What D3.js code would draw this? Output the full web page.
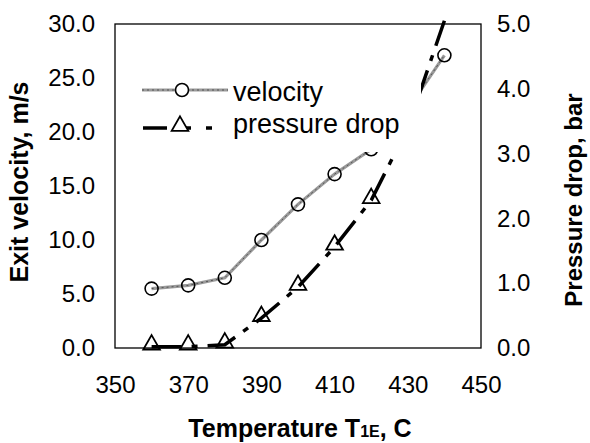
<!DOCTYPE html>
<html><head><meta charset="utf-8">
<script src="https://cdn.jsdelivr.net/npm/d3@7"></script>
<style>body{margin:0;background:#fff}svg{display:block}text{font-family:"Liberation Sans",Arial,sans-serif}</style>
</head><body>
<svg id="c" width="590" height="443"></svg>
<script>
const temps = [360, 370, 380, 390, 400, 410, 420, 430, 440];
const velocity = [5.5, 5.8, 6.5, 10.0, 13.3, 16.1, 18.4, 22.1, 27.1];
const pressure = [0.02, 0.02, 0.05, 0.46, 0.94, 1.56, 2.28, 3.4, 5.05];
const xTicks = [350, 370, 390, 410, 430, 450];
const yLeftTicks = [0, 5, 10, 15, 20, 25, 30];
const yRightTicks = [0, 1, 2, 3, 4, 5];
const legendLabels = ["velocity", "pressure drop"];

const L = 115, R = 481, T = 24, B = 348;
const svg = d3.select("#c");
const x = d3.scaleLinear().domain([350, 450]).range([L, R]);
const yL = d3.scaleLinear().domain([0, 30]).range([B, T]);
const yR = d3.scaleLinear().domain([0, 5]).range([B, T]);

const fmt = d3.format(".1f");
const gL = svg.append("g").attr("transform", `translate(${L},0)`)
  .call(d3.axisLeft(yL).tickValues(yLeftTicks).tickFormat(fmt).tickSize(0).tickPadding(20));
const gR = svg.append("g").attr("transform", `translate(${R},0)`)
  .call(d3.axisRight(yR).tickValues(yRightTicks).tickFormat(fmt).tickSize(0).tickPadding(16));
const gX = svg.append("g").attr("transform", `translate(0,${B})`)
  .call(d3.axisBottom(x).tickValues(xTicks).tickFormat(d3.format("d")).tickSize(0).tickPadding(28));
[gL, gR, gX].forEach(g => {
  g.select(".domain").remove();
  g.selectAll("text").attr("font-size", 24).attr("fill", "#000")
    .style("font-family", '"Liberation Sans",Arial,sans-serif');
});

svg.append("rect").attr("x", L).attr("y", T).attr("width", R - L).attr("height", B - T)
  .attr("fill", "none").attr("stroke", "#000").attr("stroke-width", 1.3);

const vData = temps.map((t, i) => [t, velocity[i]]);
const vLine = d3.line().x(d => x(d[0])).y(d => yL(d[1]));
svg.append("path").attr("d", vLine(vData)).attr("fill", "none").attr("stroke", "#9a9a9a").attr("stroke-width", 3.2);
svg.append("path").attr("d", vLine(vData)).attr("fill", "none").attr("stroke", "#555").attr("stroke-width", 1).attr("stroke-dasharray", "2,3");
svg.selectAll(".vm").data(vData).enter().append("circle")
  .attr("cx", d => x(d[0])).attr("cy", d => yL(d[1])).attr("r", 6.5)
  .attr("fill", "none").attr("stroke", "#000").attr("stroke-width", 1.6);

const pData = temps.map((t, i) => [t, pressure[i]]);
const pLine = d3.line().x(d => x(d[0])).y(d => yR(d[1]));
svg.append("path").attr("d", pLine(pData)).attr("fill", "none").attr("stroke", "#000")
  .attr("stroke-width", 3.5).attr("stroke-dasharray", "30,10,6,10");
const tri = d3.symbol().type(d3.symbolTriangle).size(120);
svg.selectAll(".pm").data(pData.filter(d => d[1] <= 5)).enter().append("path")
  .attr("d", tri).attr("transform", d => `translate(${x(d[0])},${yR(d[1]) - 2})`)
  .attr("fill", "none").attr("stroke", "#000").attr("stroke-width", 1.8);

svg.append("rect").attr("x", 136).attr("y", 70).attr("width", 285).attr("height", 82).attr("fill", "#fff");
const lg = svg.append("g");
lg.append("line").attr("x1", 142).attr("x2", 228).attr("y1", 90).attr("y2", 90).attr("stroke", "#9a9a9a").attr("stroke-width", 3.2);
lg.append("line").attr("x1", 142).attr("x2", 228).attr("y1", 90).attr("y2", 90).attr("stroke", "#555").attr("stroke-width", 1).attr("stroke-dasharray", "2,3");
lg.append("circle").attr("cx", 182).attr("cy", 90).attr("r", 6.5).attr("fill", "#fff").attr("stroke", "#000").attr("stroke-width", 1.6);
lg.append("line").attr("x1", 143).attr("x2", 220).attr("y1", 128).attr("y2", 128).attr("stroke", "#000")
  .attr("stroke-width", 3.5).attr("stroke-dasharray", "24,18,6,15,6");
lg.append("path").attr("d", tri).attr("transform", "translate(180,126)").attr("fill", "#fff").attr("stroke", "#000").attr("stroke-width", 1.8);
lg.selectAll("text").data(legendLabels).enter().append("text")
  .attr("x", 233).attr("y", (d, i) => 101 + i * 32).attr("font-size", 27).text(d => d);

const xt = svg.append("text").attr("x", 300).attr("y", 437).attr("text-anchor", "middle")
  .attr("font-size", 25).attr("font-weight", "bold");
xt.append("tspan").text("Temperature T");
xt.append("tspan").attr("font-size", 16).text("1E");
xt.append("tspan").text(", C");
svg.append("text").attr("transform", "translate(28,182) rotate(-90)").attr("text-anchor", "middle")
  .attr("font-size", 25).attr("font-weight", "bold").text("Exit velocity, m/s");
svg.append("text").attr("transform", "translate(582,200) rotate(-90)").attr("text-anchor", "middle")
  .attr("font-size", 24).attr("font-weight", "bold").text("Pressure drop, bar");
</script>
</body></html>
